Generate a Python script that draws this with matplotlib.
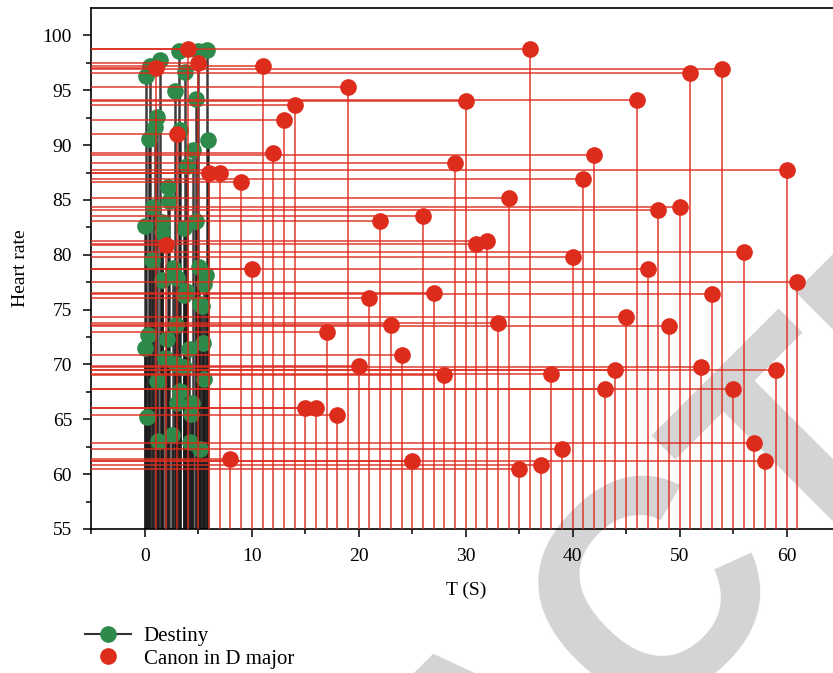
import matplotlib
matplotlib.use('Agg')
import matplotlib.pyplot as plt
from matplotlib.lines import Line2D
import numpy as np

plt.rcParams['font.family'] = ['Liberation Serif', 'DejaVu Serif']

# Canon in D major: time (s) and heart rate
canon_t = list(range(1, 62))
canon_hr = [97.0, 80.9, 91.0, 98.8, 97.5, 87.5, 87.5, 61.4, 86.6, 78.7,
            97.2, 89.3, 92.3, 93.7, 66.0, 66.0, 73.0, 65.4, 95.3, 69.9,
            76.1, 83.1, 73.6, 70.9, 61.2, 83.5, 76.5, 69.0, 88.4, 94.0,
            81.0, 81.3, 73.8, 85.2, 60.5, 98.8, 60.8, 69.1, 62.3, 79.8,
            86.9, 89.1, 67.8, 69.5, 74.3, 94.1, 78.7, 84.1, 73.5, 84.4,
            96.6, 69.8, 76.4, 96.9, 67.8, 80.3, 62.8, 61.2, 69.5, 87.7,
            77.5]

# Destiny: time (s) and heart rate
destiny_t = [0.06, 0.44, 1.4, 3.2, 5.0, 5.85, 3.75, 2.8, 4.8, 1.1,
             0.94, 0.37, 3.3, 5.93, 4.5, 3.97, 2.2, 2.25, 0.8, 1.6,
             0.0, 3.66, 4.75, 1.6, 0.63, 2.6, 5.05, 5.7, 1.6, 3.0,
             3.8, 5.5, 3.66, 5.15, 2.9, 0.28, 0.0, 2.1, 1.9, 2.9,
             4.1, 5.4, 3.66, 1.15, 5.5, 3.3, 4.4, 3.0, 4.3, 0.15,
             2.56, 1.25, 4.2, 5.15, 5.35]
destiny_hr = [96.3, 97.2, 97.8, 98.6, 98.6, 98.7, 96.7, 94.9, 94.2, 92.6,
              91.7, 90.6, 91.4, 90.5, 89.6, 88.1, 86.2, 84.9, 84.4, 83.0,
              82.6, 82.4, 83.1, 82.1, 79.5, 78.8, 78.9, 78.2, 77.7, 77.9,
              76.7, 77.3, 76.3, 75.5, 73.6, 72.7, 71.5, 72.3, 70.6, 70.0,
              71.4, 72.0, 69.8, 68.5, 68.7, 67.6, 66.5, 66.5, 65.5, 65.2,
              63.6, 63.0, 62.9, 62.3, 75.3]

green = '#2e8a4a'
red = '#dd2b1c'
xmin, ymin = -5, 55

fig = plt.figure(figsize=(8.33, 6.73), dpi=100)
ax = fig.add_axes([0.1098, 0.214, 0.8986, 0.774])
ax.patch.set_visible(False)

# watermark behind the plot
fig.text(0.605, -0.115, 'RETRACTED', rotation=45, rotation_mode='anchor',
         ha='center', va='center', fontsize=220, color='#d4d4d4',
         family='Liberation Sans', weight='bold', zorder=-5)

# Destiny: drop lines + points
ax.vlines(destiny_t, ymin, destiny_hr, color='#1a1a1a', lw=1.8, alpha=0.85, zorder=1)
ax.plot(destiny_t, destiny_hr, 'o', color=green, ms=12, mec='none', zorder=2)

# Canon: lines to both axes + points
ax.vlines(canon_t, ymin, canon_hr, color=red, lw=1.2, alpha=0.85, zorder=3)
ax.hlines(canon_hr, xmin, canon_t, color=red, lw=1.2, alpha=0.85, zorder=3)
ax.plot(canon_t, canon_hr, 'o', color=red, ms=12, mec='none', zorder=4)

ax.set_xlim(xmin, 65)
ax.set_ylim(ymin, 102.5)
ax.set_xticks(np.arange(0, 61, 10))
ax.set_xticks(np.arange(-5, 65, 5), minor=True)
ax.set_yticks(np.arange(55, 101, 5))
ax.set_yticks(np.arange(57.5, 102, 5), minor=True)
ax.tick_params(which='major', direction='out', length=6, width=1.1, labelsize=14, pad=8)
ax.tick_params(which='minor', direction='out', length=3.5, width=1.1)
for s in ax.spines.values():
    s.set_linewidth(1.2)
ax.spines['right'].set_visible(False)

ax.set_xlabel('T (S)', fontsize=14, labelpad=12)
ax.set_ylabel('Heart rate', fontsize=14, labelpad=10)

handles = [Line2D([], [], color='#333333', lw=1.5, marker='o', ms=12, mfc=green, mec='none'),
           Line2D([], [], ls='none', marker='o', ms=12, mfc=red, mec='none')]
fig.legend(handles, ['Destiny', 'Canon in D major'], loc='upper left',
           bbox_to_anchor=(0.09, 0.085), frameon=False, fontsize=15,
           handlelength=2.2, handletextpad=0.6, labelspacing=0.15, borderpad=0)

fig.savefig('out.png', dpi=100)
